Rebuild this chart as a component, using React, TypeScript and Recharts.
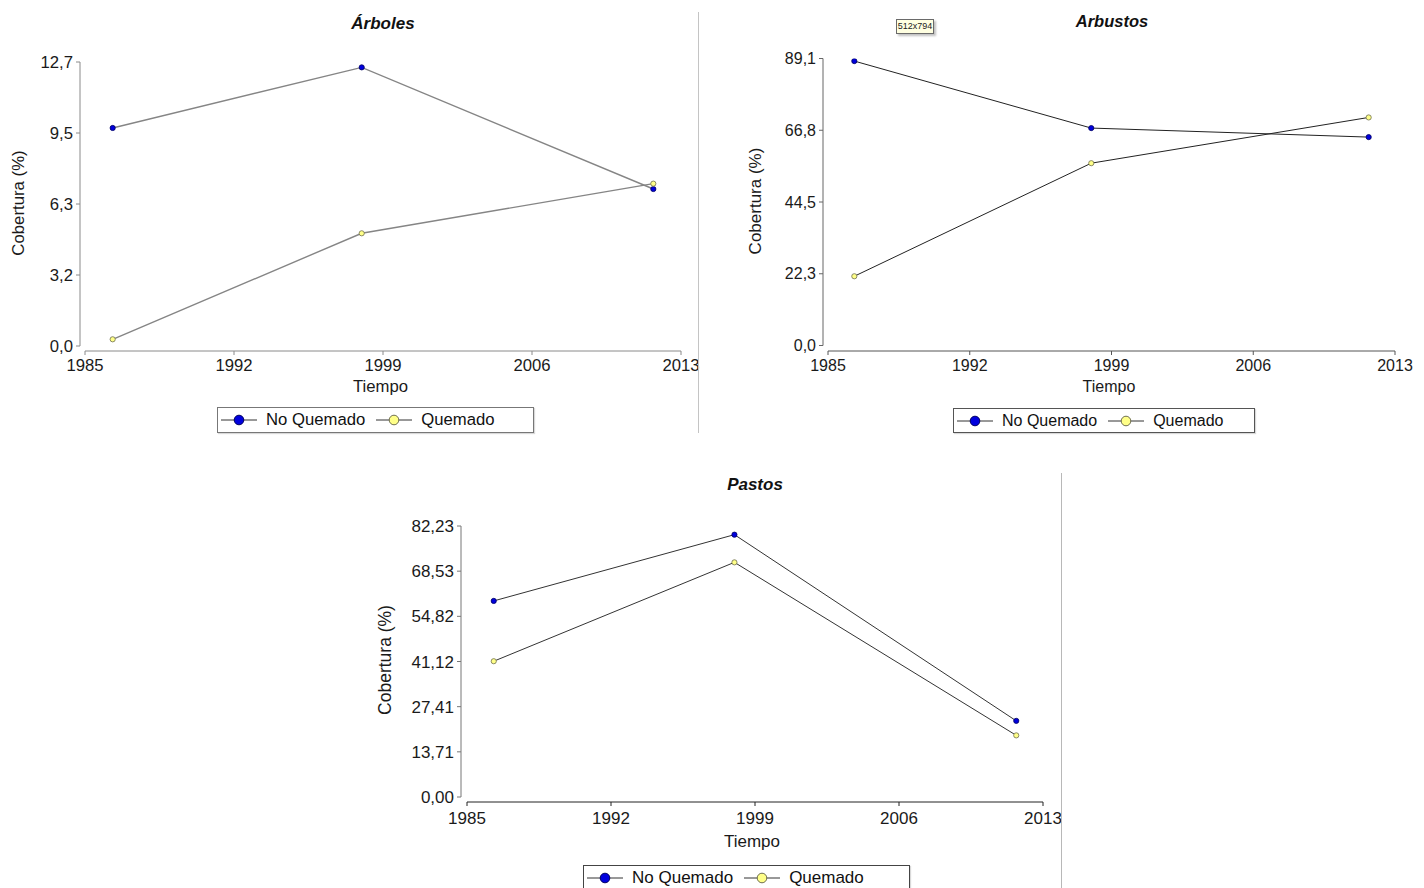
import React from 'react';
import { LineChart, Line, XAxis, YAxis, Legend, ReferenceLine } from 'recharts';

const FONT = '"Liberation Sans", Arial, Helvetica, sans-serif';

// Shared x values (years of the surveys) and x tick labels
const years = [1986.3, 1998.0, 2011.7];
const xTicks = [1985, 1992, 1999, 2006, 2013];
const seriesNames = ['No Quemado', 'Quemado'];
const yAxisTitle = 'Cobertura (%)';
const xAxisTitle = 'Tiempo';

// Árboles
const arbolesNoQuemado = [9.75, 12.46, 7.02];
const arbolesQuemado = [0.3, 5.04, 7.26];
const arbolesYTicks = [0, 3.175, 6.35, 9.525, 12.7];
const arbolesYLabels = ['0,0', '3,2', '6,3', '9,5', '12,7'];

// Arbustos
const arbustosNoQuemado = [88.3, 67.5, 64.7];
const arbustosQuemado = [21.5, 56.6, 70.8];
const arbustosYTicks = [0, 22.275, 44.55, 66.825, 89.1];
const arbustosYLabels = ['0,0', '22,3', '44,5', '66,8', '89,1'];

// Pastos
const pastosNoQuemado = [59.5, 79.6, 23.1];
const pastosQuemado = [41.2, 71.2, 18.7];
const pastosYTicks = [0, 13.705, 27.41, 41.115, 54.82, 68.525, 82.23];
const pastosYLabels = ['0,00', '13,71', '27,41', '41,12', '54,82', '68,53', '82,23'];

const BLUE_FILL = '#0000dd';
const BLUE_STROKE = '#000060';
const YELLOW_FILL = '#ffff88';
const YELLOW_STROKE = '#6e6e50';

function Marker({ fill, stroke }: { fill: string; stroke: string }) {
  return (
    <svg width={36} height={12} style={{ display: 'block', flex: '0 0 auto' }}>
      <line x1={0} y1={6} x2={36} y2={6} stroke="#333" strokeWidth={1} />
      <circle cx={18} cy={6} r={4.8} fill={fill} stroke={stroke} strokeWidth={1} />
    </svg>
  );
}

function LegendBox({ fontSize, border }: { fontSize: number; border: string }) {
  return (
    <div
      style={{
        width: '100%',
        height: '100%',
        boxSizing: 'border-box',
        border: `1px solid ${border}`,
        boxShadow: '1px 1px 1px rgba(0,0,0,0.15)',
        display: 'flex',
        alignItems: 'center',
        paddingLeft: 3,
        fontFamily: FONT,
        fontSize,
        color: '#111',
        background: '#fff',
        whiteSpace: 'nowrap',
      }}
    >
      <Marker fill={BLUE_FILL} stroke={BLUE_STROKE} />
      <span style={{ marginLeft: 9, marginRight: 11 }}>{seriesNames[0]}</span>
      <Marker fill={YELLOW_FILL} stroke={YELLOW_STROKE} />
      <span style={{ marginLeft: 9 }}>{seriesNames[1]}</span>
    </div>
  );
}

type Box = { left: number; top: number; width: number; height: number };
type Geom = { yAxisX: number; xStart: number; xEnd: number; yTop: number; yZero: number; xAxisY: number };

type PanelProps = {
  box: Box;
  g: Geom;
  noQ: number[];
  q: number[];
  yTicks: number[];
  yLabels: string[];
  title: string;
  titleX: number;
  titleBaseline: number;
  titleSize: number;
  yLabelX: number;
  yLabelY: number;
  yLabelSize: number;
  tiempoBaseline: number;
  legend: Box;
  fontSize: number;
  xTickMargin: number;
  lineColor: string;
  lineWidth: number;
  yAxisColor: string;
  xAxisColor: string;
  legendBorder: string;
};

function Panel(p: PanelProps) {
  const { box, g } = p;
  const Y_W = 60;
  const X_H = 50;
  const pxPerYear = (g.xEnd - g.xStart) / (xTicks[xTicks.length - 1] - xTicks[0]);
  const xMin = xTicks[0] - (g.xStart - g.yAxisX) / pxPerYear;
  const xMax = xTicks[xTicks.length - 1];
  const yMax = p.yTicks[p.yTicks.length - 1];
  const pxPerUnit = (g.yZero - g.yTop) / yMax;
  const yMin = -(g.xAxisY - g.yZero) / pxPerUnit;
  const margin = {
    top: g.yTop - box.top,
    right: box.left + box.width - g.xEnd,
    bottom: box.top + box.height - g.xAxisY - X_H,
    left: g.yAxisX - box.left - Y_W,
  };
  const data = years.map((year, i) => ({ year, noQuemado: p.noQ[i], quemado: p.q[i] }));
  const lx = p.yLabelX - box.left;
  const ly = p.yLabelY - box.top;
  const tiempoOffset = g.xAxisY + X_H - p.tiempoBaseline;

  return (
    <div style={{ position: 'absolute', left: box.left, top: box.top, width: box.width, height: box.height }}>
      <LineChart
        width={box.width}
        height={box.height}
        data={data}
        margin={margin}
        style={{ fontFamily: FONT }}
      >
        <XAxis
          dataKey="year"
          type="number"
          domain={[xMin, xMax]}
          allowDataOverflow
          ticks={xTicks}
          interval={0}
          height={X_H}
          axisLine={false}
          tickLine={{ stroke: p.xAxisColor }}
          tickSize={4}
          tickMargin={p.xTickMargin}
          tick={{ fontSize: p.fontSize, fill: '#1a1a1a', fontFamily: FONT }}
          label={{ value: xAxisTitle, position: 'insideBottom', offset: tiempoOffset, fontSize: p.fontSize, fill: '#1a1a1a', fontFamily: FONT }}
        />
        <YAxis
          type="number"
          domain={[yMin, yMax]}
          allowDataOverflow
          ticks={p.yTicks}
          interval={0}
          width={Y_W}
          axisLine={false}
          tickLine={{ stroke: p.yAxisColor }}
          tickSize={4}
          tickMargin={3}
          tickFormatter={(v: number) => {
            const i = p.yTicks.findIndex((t) => Math.abs(t - v) < 1e-9);
            return i >= 0 ? p.yLabels[i] : String(v);
          }}
          tick={{ fontSize: p.fontSize, fill: '#1a1a1a', fontFamily: FONT }}
          label={() => (
            <text
              x={lx}
              y={ly}
              transform={`rotate(-90 ${lx} ${ly})`}
              textAnchor="middle"
              dominantBaseline="central"
              fontSize={p.yLabelSize}
              fontFamily={FONT}
              fill="#1a1a1a"
            >
              {yAxisTitle}
            </text>
          )}
        />
        <ReferenceLine
          segment={[{ x: xMin, y: 0 }, { x: xMin, y: yMax }]}
          stroke={p.yAxisColor}
          strokeWidth={1}
          ifOverflow="visible"
        />
        <ReferenceLine
          segment={[{ x: xTicks[0], y: yMin }, { x: xMax, y: yMin }]}
          stroke={p.xAxisColor}
          strokeWidth={1}
          ifOverflow="visible"
        />
        <Line
          dataKey="noQuemado"
          name={seriesNames[0]}
          stroke={p.lineColor}
          strokeWidth={p.lineWidth}
          dot={{ r: 2.6, fill: BLUE_FILL, stroke: BLUE_STROKE, strokeWidth: 0.8 }}
          activeDot={false}
          isAnimationActive={false}
        />
        <Line
          dataKey="quemado"
          name={seriesNames[1]}
          stroke={p.lineColor}
          strokeWidth={p.lineWidth}
          dot={{ r: 2.6, fill: YELLOW_FILL, stroke: YELLOW_STROKE, strokeWidth: 0.8 }}
          activeDot={false}
          isAnimationActive={false}
        />
        <Legend
          layout="horizontal"
          verticalAlign="middle"
          align="center"
          wrapperStyle={{
            left: p.legend.left - box.left,
            top: p.legend.top - box.top,
            width: p.legend.width,
            height: p.legend.height,
          }}
          content={() => <LegendBox fontSize={p.fontSize} border={p.legendBorder} />}
        />
      </LineChart>
      <div
        style={{
          position: 'absolute',
          left: p.titleX - box.left - 100,
          width: 200,
          top: p.titleBaseline - box.top - 0.8465 * p.titleSize,
          textAlign: 'center',
          fontFamily: FONT,
          fontSize: p.titleSize,
          lineHeight: `${p.titleSize}px`,
          fontWeight: 'bold',
          fontStyle: 'italic',
          color: '#111',
        }}
      >
        {p.title}
      </div>
    </div>
  );
}

export default function App() {
  return (
    <div
      style={{
        position: 'absolute',
        left: 0,
        top: 0,
        width: 1424,
        height: 888,
        overflow: 'hidden',
        background: '#fff',
      }}
    >
      <Panel
        box={{ left: 0, top: 0, width: 712, height: 440 }}
        g={{ yAxisX: 80, xStart: 85, xEnd: 681, yTop: 62, yZero: 346, xAxisY: 351 }}
        noQ={arbolesNoQuemado}
        q={arbolesQuemado}
        yTicks={arbolesYTicks}
        yLabels={arbolesYLabels}
        title="Árboles"
        titleX={383}
        titleBaseline={29}
        titleSize={17}
        yLabelX={18}
        yLabelY={203}
        yLabelSize={16.8}
        tiempoBaseline={392}
        legend={{ left: 217, top: 407, width: 317, height: 26 }}
        fontSize={16.7}
        xTickMargin={4}
        lineColor="#858585"
        lineWidth={1.4}
        yAxisColor="#8a8a8a"
        xAxisColor="#8a8a8a"
        legendBorder="#777"
      />
      <Panel
        box={{ left: 712, top: 0, width: 712, height: 440 }}
        g={{ yAxisX: 823, xStart: 828, xEnd: 1395, yTop: 58.5, yZero: 345.5, xAxisY: 351 }}
        noQ={arbustosNoQuemado}
        q={arbustosQuemado}
        yTicks={arbustosYTicks}
        yLabels={arbustosYLabels}
        title="Arbustos"
        titleX={1112}
        titleBaseline={26.7}
        titleSize={16.5}
        yLabelX={755}
        yLabelY={201}
        yLabelSize={17}
        tiempoBaseline={391.5}
        legend={{ left: 953, top: 408, width: 302, height: 25 }}
        fontSize={16}
        xTickMargin={5}
        lineColor="#222"
        lineWidth={1}
        yAxisColor="#666"
        xAxisColor="#555"
        legendBorder="#555"
      />
      <Panel
        box={{ left: 360, top: 465, width: 730, height: 423 }}
        g={{ yAxisX: 461, xStart: 467, xEnd: 1043, yTop: 526, yZero: 797, xAxisY: 802 }}
        noQ={pastosNoQuemado}
        q={pastosQuemado}
        yTicks={pastosYTicks}
        yLabels={pastosYLabels}
        title="Pastos"
        titleX={755}
        titleBaseline={490.7}
        titleSize={17}
        yLabelX={385}
        yLabelY={660}
        yLabelSize={17.5}
        tiempoBaseline={847}
        legend={{ left: 583, top: 865, width: 327, height: 26 }}
        fontSize={17}
        xTickMargin={6}
        lineColor="#333"
        lineWidth={1}
        yAxisColor="#777"
        xAxisColor="#222"
        legendBorder="#444"
      />
      {/* panel separators */}
      <div style={{ position: 'absolute', left: 698, top: 12, width: 1, height: 421, background: '#c4c4c4' }} />
      <div style={{ position: 'absolute', left: 1061, top: 473, width: 1, height: 415, background: '#b8b8b8' }} />
      {/* screen-capture size tooltip */}
      <div
        style={{
          position: 'absolute',
          left: 896,
          top: 19,
          width: 38,
          height: 15,
          boxSizing: 'border-box',
          border: '1px solid #6a6a6a',
          background: '#ffffe1',
          boxShadow: '2px 2px 2px rgba(0,0,0,0.25)',
          fontFamily: FONT,
          fontSize: 9,
          lineHeight: '13px',
          textAlign: 'center',
          color: '#222',
        }}
      >
        512x794
      </div>
    </div>
  );
}
